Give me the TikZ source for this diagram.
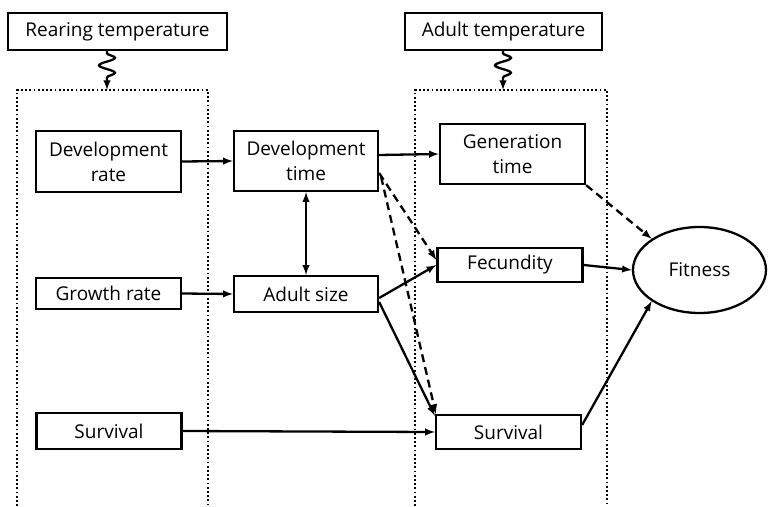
\documentclass[tikz,border=0pt]{standalone}
\usepackage{fontspec}
\setmainfont{Open Sans}
\usetikzlibrary{decorations.pathmorphing,shapes.geometric}

\tikzset{
  box/.style={draw, inner sep=0pt, align=center, minimum width=145, font=\fontsize{19}{25}\selectfont},
  heat/.style={->, decorate, decoration={snake, amplitude=8, segment length=15, pre length=2, post length=7}},
  frame/.style={dash pattern=on 1.8pt off 2.4pt, line width=1.8pt},
  weak/.style={->, dash pattern=on 8pt off 5pt}
}

\begin{document}
\begin{tikzpicture}[x=1pt, y=1pt, >=latex, line width=2.3pt]
  \useasboundingbox (0,0) rectangle (771,-506);

  % temperatures
  \node[box, minimum width=219, minimum height=37] (rear) at (117.5,-31.5) {Rearing temperature};
  \node[box, minimum width=197, minimum height=37] (adult) at (503.5,-31.5) {Adult temperature};

  % dotted frames, open at the bottom
  \draw[frame] (17,-506) -- (17,-90) -- (208,-90) -- (208,-506);
  \draw[frame] (415,-506) -- (415,-90) -- (607,-90) -- (607,-506);
  \coordinate (reartop) at (107,-90);
  \coordinate (adulttop) at (503,-90);

  \draw[heat] (rear.south -| reartop) -- (reartop);
  \draw[heat] (adult.south -| adulttop) -- (adulttop);

  % traits
  \node[box, minimum height=61] (devrate) at (108.5,-161.5) {Development\\rate};
  \node[box, minimum width=144, minimum height=60] (devtime) at (306,-161) {Development\\time};
  \node[box, minimum height=60] (gentime) at (512.5,-154) {Generation\\time};
  \node[box, minimum height=34] (fec) at (510,-265) {Fecundity};
  \node[box, minimum height=31] (growth) at (108.5,-293.5) {Growth rate};
  \node[box, minimum width=144, minimum height=36] (size) at (306,-294) {Adult size};
  \node[box, minimum height=36] (survL) at (109,-431) {Survival};
  \node[box, minimum height=34] (survR) at (508.5,-432) {Survival};
  \node[draw, ellipse, inner sep=0pt, minimum width=133, minimum height=86,
        font=\fontsize{19}{25}\selectfont] (fit) at (699.5,-270) {Fitness};

  % links
  \draw[->] (devrate.east) -- (devtime.west);
  \draw[->] ([yshift=6]devtime.east) -- (gentime.west);
  \draw[<->] (devtime.south) -- (size.north);
  \draw[->] (growth.east) -- (size.west);
  \draw[->] ([yshift=-4]size.east) -- (fec.west);
  \draw[->] ([yshift=-8]size.east) -- ([yshift=-2]survR.north west);
  \draw[weak] ([yshift=-12]devtime.east) -- ([yshift=5]fec.west);
  \draw[weak] ([xshift=2,yshift=-16]devtime.east) -- ([xshift=1]survR.north west);
  \draw[->] (survL.east) -- (survR.west);

  % to fitness
  \draw[weak] (gentime.south east) -- (fit.north west);
  \draw[->] (fec.east) -- (fit.west);
  \draw[->] ([yshift=7]survR.east) -- (fit.south west);
\end{tikzpicture}
\end{document}
